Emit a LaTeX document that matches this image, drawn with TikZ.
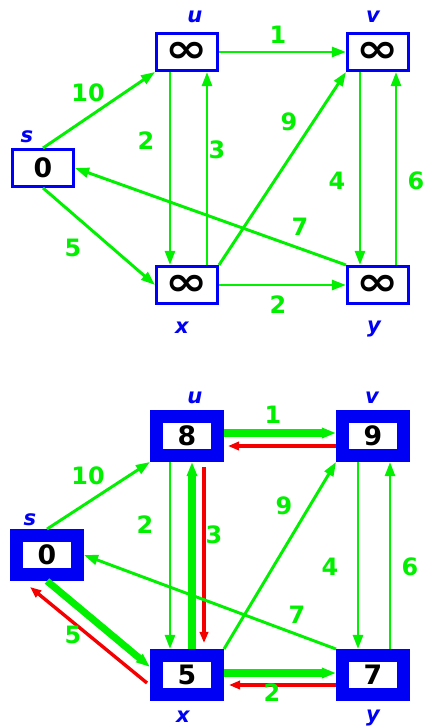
\documentclass[tikz,border=0pt]{standalone}
\usepackage{fontspec}
\setmainfont{DejaVu Sans}
\usetikzlibrary{positioning,arrows.meta,calc}
\definecolor{edgegreen}{RGB}{0,240,0}
\definecolor{boxblue}{RGB}{0,0,245}
\definecolor{predred}{RGB}{245,0,0}
\newcommand{\infval}{\raisebox{-1.1ex}{\scalebox{1.9}[1.5]{∞}}}
\tikzset{
  vtx/.style={draw=boxblue,line width=2.1pt,fill=white,minimum width=1.525cm,
              minimum height=0.925cm,inner sep=0pt,
              font=\bfseries\fontsize{19}{19}\selectfont},
  vtxdone/.style={vtx,line width=9.2pt,minimum height=0.975cm},
  vname/.style={text=boxblue,inner sep=0pt,
                font=\bfseries\itshape\fontsize{15}{15}\selectfont},
  wt/.style={text=edgegreen,inner sep=0pt,font=\bfseries\fontsize{17}{17}\selectfont},
  ed/.style={-{Triangle[length=10pt,width=7pt]},edgegreen,line width=2.1pt},
  edt/.style={ed,line width=5pt},
  pred/.style={-{Triangle[length=8pt,width=6pt]},predred,line width=2.4pt},
}
\begin{document}
\begin{tikzpicture}[x=0.025cm,y=-0.025cm]
\useasboundingbox (0,0) rectangle (423,728);

% before: all distances unknown
\node[vtx] (ts) at (43,168)  {0};
\node[vtx] (tu) at (187,52)  {\infval};
\node[vtx] (tv) at (378,52)  {\infval};
\node[vtx] (tx) at (187,285) {\infval};
\node[vtx] (ty) at (378,285) {\infval};

\node[vname] (tsl) at (27,137)  {s};
\node[vname] (tul) at (195,17)  {u};
\node[vname] (tvl) at (373,17)  {v};
\node[vname] (txl) at (182,328) {x};
\node[vname] (tyl) at (374,329) {y};

\draw[ed] (ts.north) -- (tu.south west);
\draw[ed] (tu.east) -- (tv.west);
\draw[ed] ($(tu.south)+(-17,0)$) -- ($(tx.north)+(-17,0)$);
\draw[ed] ($(tx.north)+(20,0)$) -- ($(tu.south)+(20,0)$);
\draw[ed] (tx.north east) -- (tv.south west);
\draw[ed] ($(tv.south)+(-18,0)$) -- ($(ty.north)+(-18,0)$);
\draw[ed] ($(ty.north)+(18,0)$) -- ($(tv.south)+(18,0)$);
\draw[ed] (ty.north west) -- (ts.east);
\draw[ed] (ts.south) -- (tx.west);
\draw[ed] (tx.east) -- (ty.west);

\node[wt] (tw1)  at (278,35)  {1};
\node[wt] (tw10) at (88,93)   {10};
\node[wt] (tw2a) at (146,141) {2};
\node[wt] (tw3)  at (217,150) {3};
\node[wt] (tw9)  at (289,122) {9};
\node[wt] (tw4)  at (337,181) {4};
\node[wt] (tw6)  at (416,181) {6};
\node[wt] (tw7)  at (300,227) {7};
\node[wt] (tw5)  at (73,248)  {5};
\node[wt] (tw2b) at (278,305) {2};

% after: shortest path tree
\node[vtxdone] (bs) at (47,555)  {0};
\node[vtxdone] (bu) at (187,436) {8};
\node[vtxdone] (bv) at (373,436) {9};
\node[vtxdone] (bx) at (187,675) {5};
\node[vtxdone] (by) at (373,675) {7};

\node[vname] (bsl) at (30,520)  {s};
\node[vname] (bul) at (195,398) {u};
\node[vname] (bvl) at (372,398) {v};
\node[vname] (bxl) at (183,717) {x};
\node[vname] (byl) at (373,718) {y};

\draw[edt] ($(bu.east)+(0,-3)$) -- ($(bv.west)+(0,-3)$);
\draw[pred] ($(bv.west)+(0,10)$) -- ($(bu.east)+(4,10)$);
\draw[ed] (bs.north) -- (bu.south west);
\draw[ed] ($(bu.south)+(-17,0)$) -- ($(bx.north)+(-17,0)$);
\draw[edt] ($(bx.north)+(5,0)$) -- ($(bu.south)+(5,0)$);
\draw[pred] ($(bu.south)+(17,5)$) -- ($(bx.north)+(17,-6)$);
\draw[ed] (bx.north east) -- (bv.south west);
\draw[ed] ($(bv.south)+(-15,0)$) -- ($(by.north)+(-15,0)$);
\draw[ed] ($(by.north)+(17,0)$) -- ($(bv.south)+(17,0)$);
\draw[ed] (by.north west) -- (bs.east);
\draw[edt] (bs.south) -- ($(bx.west)+(0,-8)$);
\draw[pred] ($(bx.west)+(-3,8)$) -- ($(bs.south)+(-17,6)$);
\draw[edt] ($(bx.east)+(0,-2)$) -- ($(by.west)+(0,-2)$);
\draw[pred] ($(by.west)+(0,10)$) -- ($(bx.east)+(5,10)$);

\node[wt] (bw1)  at (273,415) {1};
\node[wt] (bw10) at (88,476)  {10};
\node[wt] (bw2a) at (145,525) {2};
\node[wt] (bw3)  at (214,535) {3};
\node[wt] (bw9)  at (284,506) {9};
\node[wt] (bw4)  at (330,567) {4};
\node[wt] (bw6)  at (410,567) {6};
\node[wt] (bw7)  at (297,615) {7};
\node[wt] (bw5)  at (73,635)  {5};
\node[wt] (bw2b) at (272,693) {2};

\end{tikzpicture}
\end{document}
